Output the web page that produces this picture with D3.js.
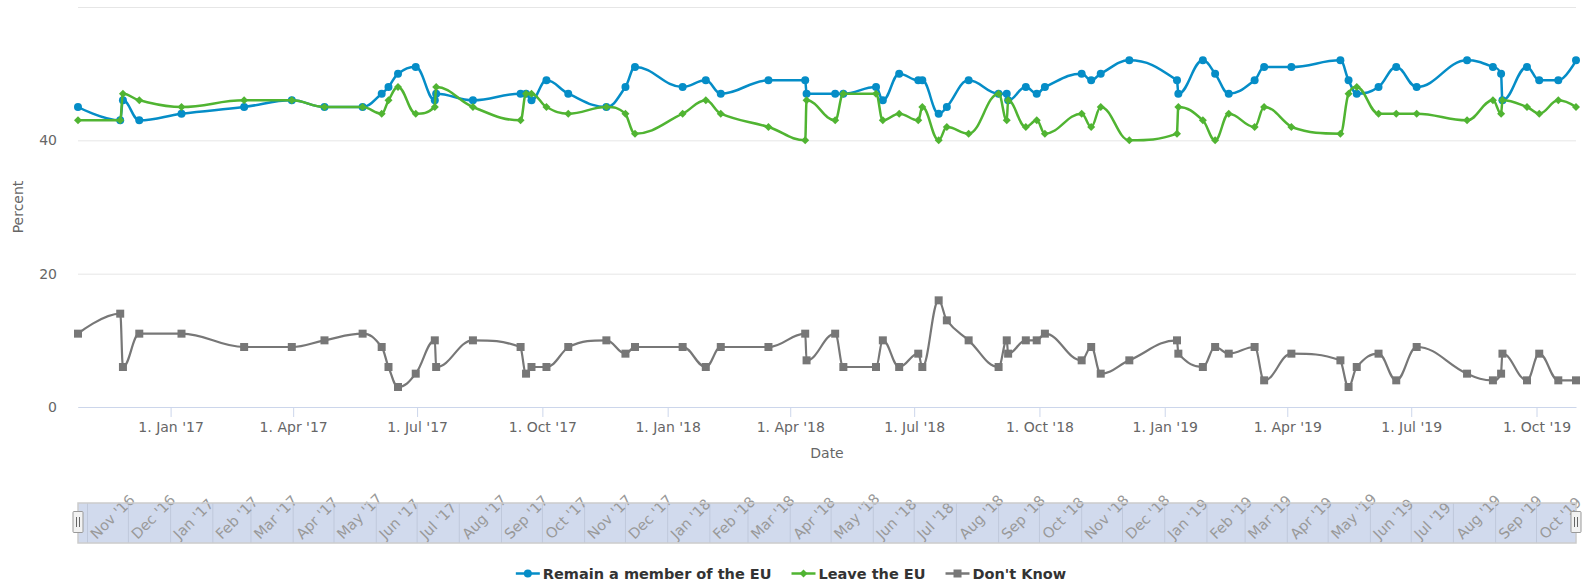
<!DOCTYPE html>
<html>
<head>
<meta charset="utf-8">
<script src="https://cdn.jsdelivr.net/npm/d3@7"></script>
<style>
body{margin:0;background:#fff;}
text{font-family:"DejaVu Sans",sans-serif;}
</style>
</head>
<body>
<svg id="chart" width="1582" height="584"></svg>
<script>
// poll dates and results (percent)
var pollDates = ["2016-10-25","2016-11-25","2016-11-27","2016-12-09","2017-01-09","2017-02-24","2017-03-31","2017-04-24",
  "2017-05-22","2017-06-05","2017-06-10","2017-06-17","2017-06-30","2017-07-14","2017-07-15","2017-08-11",
  "2017-09-15","2017-09-19","2017-09-23","2017-10-04","2017-10-20","2017-11-17","2017-12-01","2017-12-08",
  "2018-01-12","2018-01-29","2018-02-09","2018-03-16","2018-04-12","2018-04-13","2018-05-04","2018-05-10",
  "2018-06-03","2018-06-08","2018-06-20","2018-07-04","2018-07-07","2018-07-19","2018-07-25","2018-08-10",
  "2018-09-01","2018-09-07","2018-09-08","2018-09-21","2018-09-29","2018-10-05","2018-11-01","2018-11-08",
  "2018-11-15","2018-12-06","2019-01-10","2019-01-11","2019-01-29","2019-02-07","2019-02-17","2019-03-08",
  "2019-03-15","2019-04-04","2019-05-10","2019-05-16","2019-05-22","2019-06-07","2019-06-20","2019-07-05",
  "2019-08-11","2019-08-30","2019-09-05","2019-09-06","2019-09-24","2019-10-03","2019-10-17","2019-10-30"];
var remain = [45,43,46,43,44,45,46,45,45,47,48,50,51,46,47,46,47,47,46,49,47,45,48,51,
  48,49,47,49,49,47,47,47,48,46,50,49,49,44,45,49,47,47,46,48,47,48,50,49,50,52,
  49,47,52,50,47,49,51,51,52,49,47,48,51,48,52,51,50,46,51,49,49,52];
var leave = [43,43,47,46,45,46,46,45,45,44,46,48,44,45,48,45,43,47,47,45,44,45,44,41,
  44,46,44,42,40,46,43,47,47,43,44,43,45,40,42,41,47,43,46,42,43,41,44,42,45,40,
  41,45,43,40,44,42,45,42,41,47,48,44,44,44,43,46,44,46,45,44,46,45];
var dontKnow = [11,14,6,11,11,9,9,10,11,9,6,3,5,10,6,10,9,5,6,6,9,10,8,9,
  9,6,9,9,11,7,11,6,6,10,6,8,6,16,13,10,6,10,8,10,10,11,7,9,5,7,
  10,8,6,9,8,9,4,8,7,3,6,8,4,9,5,4,5,8,4,8,4,4];

var seriesNames = ["Remain a member of the EU","Leave the EU","Don't Know"];
var seriesColors = ["#058DC7","#50B432","#777777"];
var seriesSymbols = [d3.symbolCircle, d3.symbolSquare, d3.symbolSquare];

var yTicks = [0,20,40,60];
var yTickLabels = ["0","20","40",""];
var xTickDates = ["2017-01-01","2017-04-01","2017-07-01","2017-10-01","2018-01-01","2018-04-01",
  "2018-07-01","2018-10-01","2019-01-01","2019-04-01","2019-07-01","2019-10-01"];
var xTickLabels = ["1. Jan '17","1. Apr '17","1. Jul '17","1. Oct '17","1. Jan '18","1. Apr '18",
  "1. Jul '18","1. Oct '18","1. Jan '19","1. Apr '19","1. Jul '19","1. Oct '19"];

var parse = d3.timeParse("%Y-%m-%d");
var dates = pollDates.map(parse);
var plotLeft = 78, plotRight = 1576, plotTop = 7, plotBottom = 407;

var svg = d3.select("#chart");
svg.append("rect").attr("width",1582).attr("height",584).attr("fill","#fff");

var x = d3.scaleTime().domain(d3.extent(dates)).range([plotLeft,plotRight]);
var y = d3.scaleLinear().domain([0,60]).range([plotBottom,plotTop]);

// y axis with grid
var yAxis = svg.append("g")
    .attr("transform","translate("+plotLeft+",0)")
    .call(d3.axisLeft(y).tickValues(yTicks)
        .tickFormat(function(d,i){return yTickLabels[i];})
        .tickSize(-(plotRight-plotLeft)).tickPadding(21));
yAxis.select(".domain").remove();
yAxis.selectAll(".tick line").attr("stroke","#e6e6e6").attr("stroke-width",1);
yAxis.selectAll(".tick text").attr("fill","#666").style("font-size","14px")
    .style("font-family","DejaVu Sans");

// x axis
var xAxis = svg.append("g")
    .attr("transform","translate(0,"+plotBottom+")")
    .call(d3.axisBottom(x).tickValues(xTickDates.map(parse))
        .tickFormat(function(d,i){return xTickLabels[i];})
        .tickSize(10).tickSizeOuter(0).tickPadding(5));
xAxis.select(".domain").attr("stroke","#ccd6eb");
xAxis.selectAll(".tick line").attr("stroke","#ccd6eb");
xAxis.selectAll(".tick text").attr("fill","#666").style("font-size","14px")
    .style("font-family","DejaVu Sans");

svg.append("text").attr("x",(plotLeft+plotRight)/2).attr("y",458)
    .attr("text-anchor","middle").attr("fill","#666").style("font-size","14px").text("Date");
svg.append("text").attr("transform","translate(23,"+((plotTop+plotBottom)/2)+") rotate(-90)")
    .attr("text-anchor","middle").attr("fill","#666").style("font-size","14px").text("Percent");

/**
 * spline path the way Highcharts builds it
 */
function splinePath(pts){
    var smoothing = 1.5, denom = smoothing + 1;
    var path = d3.path();
    var rc = [];
    pts.forEach(function(p,i){
        var px = p[0], py = p[1];
        rc[i] = null;
        if(i === 0){ path.moveTo(px,py); return; }
        var last = pts[i-1], next = pts[i+1];
        var lcx = px, lcy = py;
        if(next){
            var lx = last[0], ly = last[1], nx = next[0], ny = next[1];
            lcx = (smoothing*px + lx)/denom;
            lcy = (smoothing*py + ly)/denom;
            var rcx = (smoothing*px + nx)/denom;
            var rcy = (smoothing*py + ny)/denom;
            var corr = 0;
            if(rcx !== lcx){
                corr = ((rcy-lcy)*(rcx-px))/(rcx-lcx) + py - rcy;
            }
            lcy += corr; rcy += corr;
            if(lcy > ly && lcy > py){ lcy = Math.max(ly,py); rcy = 2*py - lcy; }
            else if(lcy < ly && lcy < py){ lcy = Math.min(ly,py); rcy = 2*py - lcy; }
            if(rcy > ny && rcy > py){ rcy = Math.max(ny,py); lcy = 2*py - rcy; }
            else if(rcy < ny && rcy < py){ rcy = Math.min(ny,py); lcy = 2*py - rcy; }
            rc[i] = [rcx,rcy];
        }
        var prc = rc[i-1] || last;
        path.bezierCurveTo(prc[0],prc[1],lcx,lcy,px,py);
    });
    return path.toString();
}

var allSeries = [remain, leave, dontKnow];
var markerSize = [50, 32, 64];
var markerRotate = [0, 45, 0];
var lineWidths = [2.5, 2.5, 2.2];

allSeries.forEach(function(values,s){
    var pts = values.map(function(v,i){ return [x(dates[i]), y(v)]; });
    var g = svg.append("g").classed("series",true);
    g.append("path")
        .attr("d",splinePath(pts))
        .attr("fill","none")
        .attr("stroke",seriesColors[s])
        .attr("stroke-width",lineWidths[s])
        .attr("stroke-linejoin","round")
        .attr("stroke-linecap","round");
    g.selectAll("path.marker")
        .data(values)
        .enter().append("path")
        .classed("marker",true)
        .attr("d",d3.symbol().type(seriesSymbols[s]).size(markerSize[s]))
        .attr("transform",function(d,i){
            return "translate("+x(dates[i])+","+y(d)+") rotate("+markerRotate[s]+")";
        })
        .attr("fill",seriesColors[s]);
});

// navigator
var navTop = 503, navBottom = 543;
var nav = svg.append("g").classed("navigator",true);
var months = d3.timeMonth.range(d3.timeMonth.ceil(x.domain()[0]), x.domain()[1]);
nav.append("rect").attr("x",plotLeft).attr("y",navTop).attr("width",plotRight-plotLeft)
    .attr("height",navBottom-navTop).attr("fill","#fff");
nav.selectAll("line.grid").data(months).enter().append("line")
    .attr("x1",function(d){return x(d);}).attr("x2",function(d){return x(d);})
    .attr("y1",navTop).attr("y2",navBottom)
    .attr("stroke","#e6e6e6").attr("stroke-width",1);
nav.append("rect").attr("x",plotLeft).attr("y",navTop).attr("width",plotRight-plotLeft)
    .attr("height",navBottom-navTop).attr("fill","rgba(102,133,194,0.3)");
var monthFmt = d3.timeFormat("%b '%y");
nav.selectAll("text").data(months).enter().append("text")
    .attr("transform",function(d){return "translate("+(x(d)+9)+",540) rotate(-45)";})
    .attr("fill","#999").style("font-size","14.5px")
    .text(function(d){return monthFmt(d);});
nav.append("rect").attr("x",plotLeft).attr("y",navTop).attr("width",plotRight-plotLeft)
    .attr("height",navBottom-navTop).attr("fill","none")
    .attr("stroke","#cccccc").attr("stroke-width",1.5);
[plotLeft,plotRight].forEach(function(hx){
    var h = nav.append("g").attr("transform","translate("+hx+",522)");
    h.append("rect").attr("x",-5).attr("y",-10.5).attr("width",10).attr("height",21)
        .attr("rx",1).attr("fill","#f2f2f2").attr("stroke","#999");
    h.append("line").attr("x1",-1.5).attr("x2",-1.5).attr("y1",-5).attr("y2",5).attr("stroke","#666");
    h.append("line").attr("x1",1.5).attr("x2",1.5).attr("y1",-5).attr("y2",5).attr("stroke","#666");
});

// legend, centred under the chart
var legend = svg.append("g").classed("legend",true);
var lx = 0;
seriesNames.forEach(function(name,s){
    var item = legend.append("g");
    item.append("line").attr("x1",lx).attr("x2",lx+24).attr("y1",573.5).attr("y2",573.5)
        .attr("stroke",seriesColors[s]).attr("stroke-width",2.5);
    item.append("path")
        .attr("d",d3.symbol().type(seriesSymbols[s]).size(markerSize[s]))
        .attr("transform","translate("+(lx+12)+",573.5) rotate("+markerRotate[s]+")")
        .attr("fill",seriesColors[s]);
    var t = item.append("text").attr("x",lx+27).attr("y",579)
        .attr("fill","#333").style("font-size","14.5px").style("font-weight","bold")
        .text(name);
    lx = lx + 27 + t.node().getComputedTextLength();
    if(s < seriesNames.length-1){ lx += 20; }
});
legend.attr("transform","translate("+(791 - lx/2)+",0)");
</script>
</body>
</html>
